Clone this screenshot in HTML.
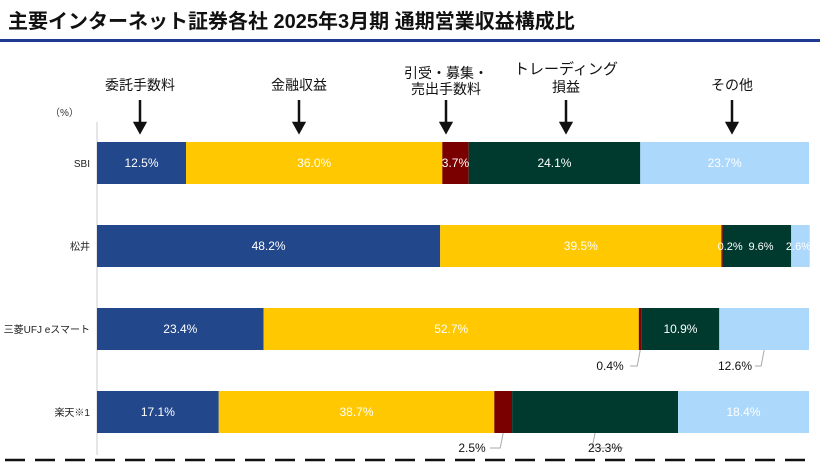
<!DOCTYPE html>
<html><head><meta charset="utf-8"><style>
body{margin:0;background:#fff;width:820px;height:465px;overflow:hidden;font-family:"Liberation Sans","Noto Sans CJK JP",sans-serif}
</style></head><body>
<svg id="c" width="820" height="465" xmlns="http://www.w3.org/2000/svg" font-family="Liberation Sans, Noto Sans CJK JP, sans-serif">
<text x="8" y="28" font-size="20" font-weight="bold" fill="#111">主要インターネット証券各社 2025年3月期 通期営業収益構成比</text>
<rect x="0" y="39" width="820" height="3" fill="#1f3a93"/>
<text x="50" y="116" font-size="10" fill="#333">（%）</text>
<line x1="97" y1="122" x2="97" y2="455" stroke="#ccc" stroke-width="1"/>
<line x1="5" y1="460" x2="815" y2="460" stroke="#111" stroke-width="2.5" stroke-dasharray="20,10"/>
<g id="heads"></g>
<g id="bars"></g>
<g id="labels"></g>
</svg>
<script>
const companies = ["SBI","松井","三菱UFJ eスマート","楽天※1"];
const commission = [12.5,48.2,23.4,17.1];
const financial = [36.0,39.5,52.7,38.7];
const underwriting = [3.7,0.2,0.4,2.5];
const trading = [24.1,9.6,10.9,23.3];
const other = [23.7,2.6,12.6,18.4];
const seriesNames = ["委託手数料","金融収益","引受・募集・売出手数料","トレーディング損益","その他"];
const colors = ["#22478a","#ffc800","#7a0000","#003a2e","#acd8fc"];
const series = [commission,financial,underwriting,trading,other];
const NS="http://www.w3.org/2000/svg";
const x0=97,x1=809;
const xs=v=>x0+(x1-x0)*v/100;
const rowY=i=>142+i*83, bh=42;
const bars=document.getElementById('bars');
const labels=document.getElementById('labels');
function mk(t,a,p){const e=document.createElementNS(NS,t);for(const k in a)e.setAttribute(k,a[k]);(p||bars).appendChild(e);return e;}
const heads=document.getElementById('heads');
const headLines=[["委託手数料"],["金融収益"],["引受・募集・","売出手数料"],["トレーディング","損益"],["その他"]];
const arrowX=[140,299,446,566,732];
companies.forEach((c,i)=>{
  const t=mk('text',{x:90,y:rowY(i)+bh/2+4,'font-size':10,'text-anchor':'end',fill:'#222'},labels);
  
  
  t.textContent=c;
  let cum=0;
  series.forEach((s,j)=>{
    const v=s[i];const a=xs(cum),b=xs(cum+v);cum+=v;
    const r=mk('rect',{x:a,y:rowY(i),width:Math.max(b-a,0.5),height:bh,fill:colors[j]});
    
    
    const lbl=v.toFixed(1)+'%';
    const cx=(a+b)/2;
    const outside=(i==2&&(j==2||j==4))||(i==3&&(j==2||j==3));
    if(outside){
      let tx,ty;
      if(i==2&&j==2){tx=610;ty=rowY(i)+bh+20;}
      else if(i==2&&j==4){tx=735;ty=rowY(i)+bh+20;}
      else if(i==3&&j==2){tx=472;ty=rowY(i)+bh+19;}
      else {tx=605;ty=rowY(i)+bh+19;}
      const p=mk('path',{d:`M${cx},${rowY(i)+bh} L${cx-3},${ty-4} L${tx+(i==2?20:18)},${ty-4}`,fill:'none',stroke:'#aaa','stroke-width':1},labels);
      
      
      const tt=mk('text',{x:tx,y:ty,'font-size':12,'text-anchor':'middle',fill:'#111'},labels);
      
      
      tt.textContent=lbl;
    } else {
      let px=cx, fs=12;
      if(i==1&&j==2){px=cx+8;fs=11;}
      if(i==1&&j==3){px=cx+4;fs=11;}
      if(i==1&&j==4){px=cx-2;fs=11;}
      const tt=mk('text',{x:px,y:rowY(i)+bh/2+4,'font-size':fs,'text-anchor':'middle',fill:'#fff'},labels);
      
      
      tt.textContent=lbl;
    }
  });
});
headLines.forEach((ls,j)=>{
  const x=arrowX[j];
  ls.forEach((l,k)=>{
    const y = ls.length==1 ? 90 : (j==3? 74+k*18 : 78+k*16);
    const t=mk('text',{x:x,y:y,'font-size':j==3&&k==0?15:14,'text-anchor':'middle',fill:'#111'},heads);
    
    
    t.textContent=l;
  });
  const a=mk('path',{d:`M${x},100 L${x},124 M${x-5},123 L${x},132 L${x+5},123 Z`,stroke:'#111','stroke-width':2.5,fill:'#111'},heads);
  
  
});
</script>
</body></html>
